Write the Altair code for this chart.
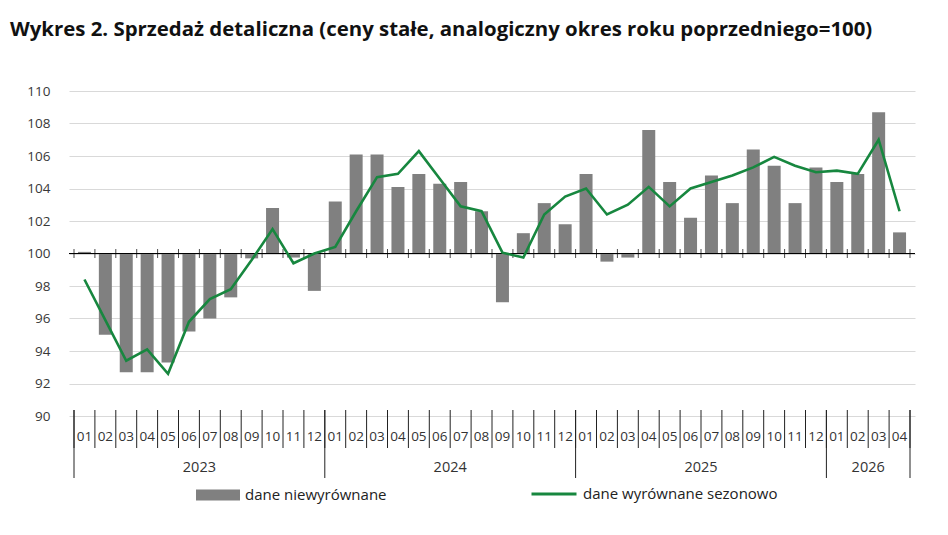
import altair as alt
import pandas as pd

# ---- data ----
months = ["01", "02", "03", "04", "05", "06", "07", "08", "09", "10", "11", "12",
          "01", "02", "03", "04", "05", "06", "07", "08", "09", "10", "11", "12",
          "01", "02", "03", "04", "05", "06", "07", "08", "09", "10", "11", "12",
          "01", "02", "03", "04"]
years = ["2023"] * 12 + ["2024"] * 12 + ["2025"] * 12 + ["2026"] * 4
unadjusted = [100.1, 95.0, 92.7, 92.7, 93.3, 95.2, 96.0, 97.3, 99.7, 102.8, 99.75, 97.7,
              103.2, 106.1, 106.1, 104.1, 104.9, 104.3, 104.4, 102.6, 97.0, 101.25, 103.1, 101.8,
              104.9, 99.5, 99.75, 107.6, 104.4, 102.2, 104.8, 103.1, 106.4, 105.4, 103.1, 105.3,
              104.4, 104.9, 108.7, 101.3]
seasonal = [98.4, 95.9, 93.4, 94.1, 92.6, 95.8, 97.2, 97.8, 99.6, 101.5, 99.4, 100.0,
            100.4, 102.6, 104.7, 104.9, 106.3, 104.6, 102.9, 102.6, 100.05, 99.75, 102.4, 103.5,
            104.0, 102.4, 103.0, 104.1, 102.9, 104.0, 104.4, 104.8, 105.3, 105.95, 105.4, 105.0,
            105.1, 104.9, 107.0, 102.6]
year_labels = ["2023", "2024", "2025", "2026"]
y_ticks = [90, 92, 94, 96, 98, 100, 102, 104, 106, 108, 110]

LBL_BARS = "dane niewyrównane"
LBL_LINE = "dane wyrównane sezonowo"
TITLE = "Wykres 2. Sprzedaż detaliczna (ceny stałe, analogiczny okres roku poprzedniego=100)"

FONT = "Open Sans"
n = len(months)

df = pd.DataFrame({"idx": list(range(n)), "month": months, "year": years,
                   "unadj": unadjusted, "sa": seasonal})
df["center"] = df["idx"] + 0.5
df["s_bar"] = LBL_BARS
df["s_line"] = LBL_LINE

bounds = pd.DataFrame({"b": list(range(n + 1))})

# year spans computed from the month list
starts, counts = [], []
for y in year_labels:
    idxs = [i for i, v in enumerate(years) if v == y]
    starts.append(idxs[0])
    counts.append(len(idxs))
year_df = pd.DataFrame({"year": year_labels,
                        "mid": [s + c / 2 for s, c in zip(starts, counts)]})
year_bounds = pd.DataFrame({"b": starts + [n]})

xs = alt.Scale(domain=[0, n], nice=False, zero=False)
ys = alt.Scale(domain=[90, 110], nice=False, zero=False)
yaxis = alt.Axis(values=y_ticks, tickCount=len(y_ticks), labelOverlap=False,
                 grid=True, gridColor="#d9d9d9", gridWidth=1,
                 domain=False, ticks=False, labelPadding=19, labelFontSize=13.5,
                 labelColor="#383838", labelFont=FONT, title=None)

base = alt.Chart(df)

bars = base.mark_bar(size=13).encode(
    x=alt.X("center:Q", scale=xs, axis=None),
    y=alt.Y("unadj:Q", scale=ys, axis=yaxis),
    y2=alt.Y2(datum=100),
    color=alt.Color("s_bar:N",
                    scale=alt.Scale(domain=[LBL_BARS], range=["#808080"]),
                    legend=alt.Legend(orient="none", legendX=127, legendY=382, title=None,
                                      symbolType="M-1,-0.25H1V0.25H-1Z", symbolSize=1936,
                                      symbolStrokeWidth=0, labelFont=FONT, labelFontSize=15,
                                      labelColor="#222222", labelOffset=5, padding=0,
                                      labelLimit=400)),
)

baseline = alt.Chart(df).mark_rule(color="#000000", strokeWidth=1).encode(
    y=alt.Y(datum=100, scale=ys)
)

ticks100 = alt.Chart(bounds).mark_tick(orient="vertical", size=9, thickness=1, color="#000000").encode(
    x=alt.X("b:Q", scale=xs, axis=None),
    y=alt.Y(datum=100, scale=ys),
)

month_sep = alt.Chart(bounds).mark_rule(color="#222222", strokeWidth=1).encode(
    x=alt.X("b:Q", scale=xs, axis=None),
    y=alt.value(319), y2=alt.value(357),
)

year_sep = alt.Chart(year_bounds).mark_rule(color="#222222", strokeWidth=1).encode(
    x=alt.X("b:Q", scale=xs, axis=None),
    y=alt.value(319), y2=alt.value(387),
)

month_txt = base.mark_text(font=FONT, fontSize=13.5, color="#333333", baseline="middle").encode(
    x=alt.X("center:Q", scale=xs, axis=None),
    y=alt.value(346),
    text="month:N",
)

year_txt = alt.Chart(year_df).mark_text(font=FONT, fontSize=14.5, color="#333333", baseline="middle").encode(
    x=alt.X("mid:Q", scale=xs, axis=None),
    y=alt.value(377),
    text="year:N",
)

line = base.mark_line(strokeWidth=2.6).encode(
    x=alt.X("center:Q", scale=xs, axis=None),
    y=alt.Y("sa:Q", scale=ys, axis=yaxis),
    stroke=alt.Stroke("s_line:N",
                      scale=alt.Scale(domain=[LBL_LINE], range=["#17873f"]),
                      legend=alt.Legend(orient="none", legendX=461, legendY=379, title=None,
                                        symbolType="stroke", symbolSize=2025,
                                        symbolStrokeWidth=3, labelFont=FONT, labelFontSize=15,
                                        labelColor="#222222", labelOffset=5, padding=0,
                                        labelLimit=400)),
)

chart = alt.layer(bars, baseline, ticks100, month_sep, year_sep, month_txt, year_txt, line).resolve_scale(
    color="independent", stroke="independent"
).properties(
    width=846, height=325,
    autosize=alt.AutoSizeParams(type="none"),
    padding={"left": 61, "top": 83, "right": 25, "bottom": 111},
    title=alt.TitleParams(TITLE, anchor="start", frame="group", dx=-59, offset=44,
                          font=FONT, fontSize=20.4, fontWeight="bold", color="#111111"),
    background="white",
).configure_view(stroke=None)

chart.save("out.html", embed_options={"renderer": "svg", "actions": False})
